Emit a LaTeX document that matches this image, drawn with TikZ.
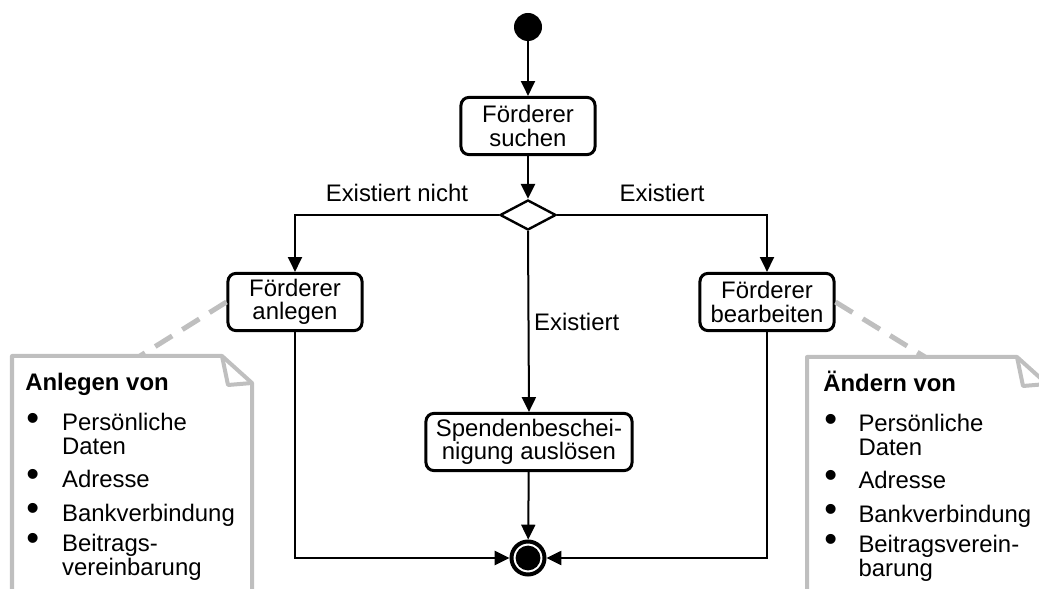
\documentclass[tikz,border=0pt]{standalone}
\usepackage{fontspec}
\setmainfont{Liberation Sans}
\usetikzlibrary{shapes.geometric,arrows.meta}
\definecolor{notegray}{RGB}{191,191,191}

\begin{document}
\begin{tikzpicture}[x=0.025cm,y=-0.025cm,
	every node/.style={font=\fontsize{17}{16.6}\selectfont},
	action/.style={rectangle,rounded corners=0.2cm,draw,line width=0.075cm,align=center,minimum width=3.35cm,minimum height=1.43cm,inner sep=0},
	flow/.style={line width=0.05cm,-{Triangle[width=0.35cm,length=0.37cm]}},
	note/.style={draw=notegray,line width=0.1cm,line join=round},
	notelink/.style={draw=notegray,line width=0.125cm,dash pattern=on 0.5cm off 0.3cm}]
	\useasboundingbox (0,0) rectangle (1039,589);
	\clip (0,0) rectangle (1039,589);
	% activity nodes
	\node[circle,fill,minimum size=0.7cm,inner sep=0] (start) at (528,27) {};
	\node[action] (search) at (528,126) {Förderer\\suchen};
	\node[diamond,draw,line width=0.06cm,minimum width=1.4cm,minimum height=0.75cm,inner sep=0] (decide) at (528,215) {};
	\node[action] (create) at (295,302) {Förderer\\anlegen};
	\node[action] (edit) at (767,302) {Förderer\\bearbeiten};
	\node[action,minimum width=5.15cm] (receipt) at (529,442) {Spendenbeschei-\\nigung auslösen};
	\node[circle,draw,line width=0.1cm,minimum size=0.825cm,inner sep=0,
		path picture={\fill (path picture bounding box.center) circle (0.31cm);}] (stop) at (528,558) {};
	% control flow
	\draw[flow] (start) -- (search);
	\draw[flow] (search) -- (decide);
	\draw[flow] (decide.west) -| node[pos=0.25,above=0.18cm] {Existiert nicht} (create.north);
	\draw[flow] (decide.east) -| node[pos=0.25,above=0.18cm] {Existiert} (edit.north);
	\draw[flow] (decide.south) -- node[midway,right] {Existiert} (receipt.north);
	\draw[flow] (receipt) -- (stop);
	\draw[flow] (create.south) |- (stop.west);
	\draw[flow] (edit.south) |- (stop.east);
	% notes
	\draw[note] (12,600) -- (12,356) -- (222,356) -- (252,383) -- (252,600);
	\draw[note] (222,356) -- (228,385) -- (252,383);
	\draw[note] (807,600) -- (807,357) -- (1017,357) -- (1047,384) -- (1047,600);
	\draw[note] (1017,357) -- (1023,386) -- (1047,384);
	\coordinate (createnote) at (140,356);
	\coordinate (editnote) at (925,357);
	\draw[notelink] (create.west) -- (createnote);
	\draw[notelink] (edit.east) -- (editnote);
	\node[anchor=base west,align=left,inner sep=0] (createtext) at (25,391) {\begin{tabular}[t]{@{}l@{}l@{}}
		\multicolumn{2}{@{}l@{}}{\textbf{Anlegen von}}\\[0.39cm]
		\makebox[0.92cm][l]{\hspace{0.03cm}\smash{\raisebox{0.02cm}{\fontsize{26}{26}\selectfont\textbullet}}} & Persönliche\\
		& Daten\\[0.215cm]
		\makebox[0.92cm][l]{\hspace{0.03cm}\smash{\raisebox{0.02cm}{\fontsize{26}{26}\selectfont\textbullet}}} & Adresse\\[0.24cm]
		\makebox[0.92cm][l]{\hspace{0.03cm}\smash{\raisebox{0.02cm}{\fontsize{26}{26}\selectfont\textbullet}}} & Bankverbindung\\[0.14cm]
		\makebox[0.92cm][l]{\hspace{0.03cm}\smash{\raisebox{0.02cm}{\fontsize{26}{26}\selectfont\textbullet}}} & Beitrags-\\
		& vereinbarung
	\end{tabular}};
	\node[anchor=base west,align=left,inner sep=0] (edittext) at (823,392) {\begin{tabular}[t]{@{}l@{}l@{}}
		\multicolumn{2}{@{}l@{}}{\textbf{Ändern von}}\\[0.39cm]
		\makebox[0.88cm][l]{\hspace{0.03cm}\smash{\raisebox{0.02cm}{\fontsize{26}{26}\selectfont\textbullet}}} & Persönliche\\
		& Daten\\[0.215cm]
		\makebox[0.88cm][l]{\hspace{0.03cm}\smash{\raisebox{0.02cm}{\fontsize{26}{26}\selectfont\textbullet}}} & Adresse\\[0.24cm]
		\makebox[0.88cm][l]{\hspace{0.03cm}\smash{\raisebox{0.02cm}{\fontsize{26}{26}\selectfont\textbullet}}} & Bankverbindung\\[0.14cm]
		\makebox[0.88cm][l]{\hspace{0.03cm}\smash{\raisebox{0.02cm}{\fontsize{26}{26}\selectfont\textbullet}}} & Beitragsverein-\\
		& barung
	\end{tabular}};
\end{tikzpicture}
\end{document}
